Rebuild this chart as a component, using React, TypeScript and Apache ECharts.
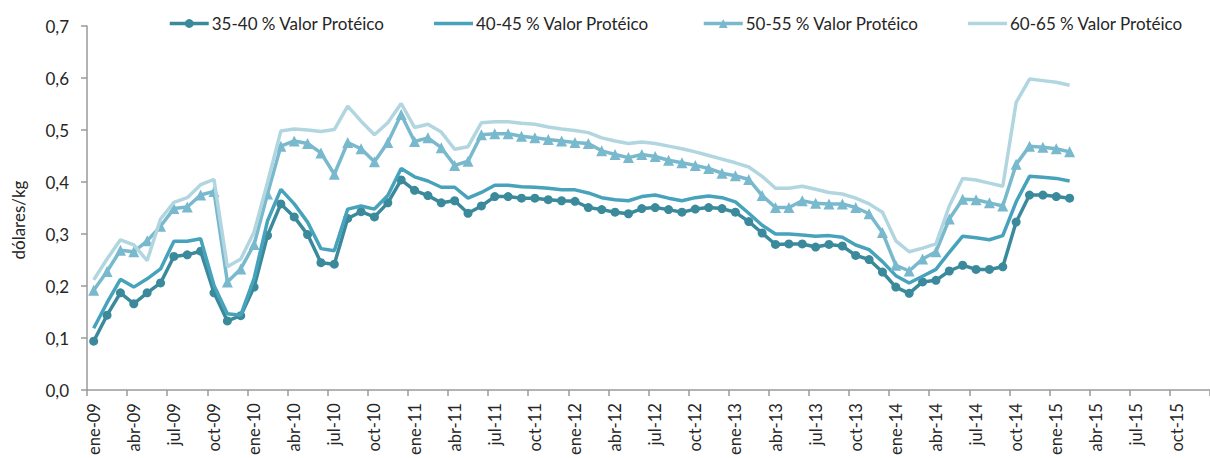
import React, { useEffect, useRef } from "react";
import * as echarts from "echarts";

const months = ["ene", "feb", "mar", "abr", "may", "jun", "jul", "ago", "sep", "oct", "nov", "dic"];
const years = ["09", "10", "11", "12", "13", "14", "15"];
const categories: string[] = [];
years.forEach((y) => months.forEach((m) => categories.push(m + "-" + y)));

const seriesNames = [
  "35-40 % Valor Protéico",
  "40-45 % Valor Protéico",
  "50-55 % Valor Protéico",
  "60-65 % Valor Protéico",
];

const v3540 = [
  0.094, 0.144, 0.187, 0.166, 0.187, 0.206, 0.257, 0.260, 0.267, 0.187, 0.133, 0.143,
  0.198, 0.297, 0.358, 0.333, 0.299, 0.245, 0.242, 0.330, 0.343, 0.333, 0.360, 0.404,
  0.384, 0.374, 0.360, 0.364, 0.340, 0.354, 0.372, 0.372, 0.369, 0.369, 0.366, 0.364,
  0.363, 0.351, 0.347, 0.342, 0.339, 0.349, 0.351, 0.347, 0.342, 0.348, 0.351, 0.349,
  0.342, 0.324, 0.302, 0.280, 0.281, 0.281, 0.275, 0.280, 0.277, 0.259, 0.251, 0.227,
  0.198, 0.186, 0.208, 0.211, 0.229, 0.240, 0.232, 0.232, 0.237, 0.323, 0.375, 0.375,
  0.372, 0.369,
];
const v4045 = [
  0.119, 0.168, 0.213, 0.198, 0.214, 0.233, 0.286, 0.286, 0.291, 0.201, 0.147, 0.144,
  0.215, 0.325, 0.386, 0.358, 0.323, 0.272, 0.268, 0.348, 0.354, 0.348, 0.374, 0.426,
  0.410, 0.402, 0.390, 0.390, 0.369, 0.380, 0.394, 0.394, 0.391, 0.390, 0.388, 0.385,
  0.385, 0.379, 0.370, 0.366, 0.364, 0.372, 0.375, 0.369, 0.364, 0.370, 0.373, 0.370,
  0.362, 0.340, 0.317, 0.300, 0.300, 0.298, 0.296, 0.297, 0.294, 0.279, 0.270, 0.247,
  0.220, 0.206, 0.219, 0.232, 0.265, 0.296, 0.293, 0.289, 0.297, 0.362, 0.411, 0.409,
  0.407, 0.402,
];
const v5055 = [
  0.192, 0.228, 0.269, 0.266, 0.287, 0.315, 0.349, 0.352, 0.375, 0.382, 0.208, 0.233,
  0.280, 0.377, 0.469, 0.479, 0.474, 0.456, 0.415, 0.476, 0.464, 0.439, 0.476, 0.530,
  0.478, 0.485, 0.466, 0.432, 0.440, 0.491, 0.493, 0.493, 0.488, 0.485, 0.482, 0.479,
  0.476, 0.474, 0.460, 0.453, 0.447, 0.453, 0.449, 0.442, 0.437, 0.432, 0.426, 0.417,
  0.412, 0.405, 0.374, 0.351, 0.351, 0.364, 0.359, 0.358, 0.358, 0.351, 0.339, 0.303,
  0.240, 0.229, 0.252, 0.266, 0.329, 0.367, 0.366, 0.360, 0.354, 0.434, 0.469, 0.467,
  0.464, 0.458,
];
const v6065 = [
  0.212, 0.252, 0.289, 0.279, 0.249, 0.329, 0.361, 0.370, 0.395, 0.405, 0.237, 0.252,
  0.304, 0.399, 0.498, 0.502, 0.500, 0.497, 0.501, 0.546, 0.517, 0.491, 0.514, 0.551,
  0.505, 0.511, 0.496, 0.463, 0.468, 0.514, 0.516, 0.516, 0.513, 0.511, 0.506, 0.502,
  0.499, 0.495, 0.485, 0.479, 0.474, 0.477, 0.474, 0.469, 0.464, 0.458, 0.451, 0.444,
  0.437, 0.429, 0.411, 0.388, 0.388, 0.392, 0.386, 0.380, 0.377, 0.369, 0.358, 0.342,
  0.287, 0.266, 0.273, 0.281, 0.354, 0.407, 0.404, 0.398, 0.392, 0.553, 0.598, 0.595,
  0.592, 0.586,
];

const colors = ["#3a8a9c", "#46a3bb", "#79b9ce", "#b2d6e0"];
const legendLefts = [168, 434, 702, 968];
const FONT = "Lato, 'Noto Sans', sans-serif";
const TEXT_COLOR = "#262626";
const AXIS_COLOR = "#9a9a9a";

export default function App() {
  const ref = useRef<HTMLDivElement>(null);
  useEffect(() => {
    if (!ref.current) return;
    const chart = echarts.init(ref.current, undefined, { renderer: "svg" });
    const dataSets = [v3540, v4045, v5055, v6065];
    const symbols = ["circle", "none", "triangle", "none"];
    const symbolSizes = [9, 0, 11, 0];
    chart.setOption({
      animation: false,
      backgroundColor: "#ffffff",
      textStyle: { fontFamily: FONT },
      legend: seriesNames.map((n, i) => {
        const plain = symbols[i] === "none";
        return {
          data: [plain ? { name: n, icon: "rect" } : { name: n }],
          left: legendLefts[i],
          top: 15,
          itemWidth: 39,
          itemHeight: plain ? 3.5 : 11,
          itemGap: 0,
          padding: 0,
          lineStyle: { width: 3.5 },
          textStyle: {
            fontSize: 17,
            fontFamily: FONT,
            color: TEXT_COLOR,
            padding: [0, 0, 0, -2],
          },
        };
      }),
      grid: { left: 87, right: -11, top: 26, bottom: 66, containLabel: false },
      xAxis: {
        type: "category",
        data: categories,
        boundaryGap: true,
        axisLine: { show: true, lineStyle: { color: AXIS_COLOR, width: 1.5 } },
        axisTick: { show: true, interval: 2, length: 6, lineStyle: { color: AXIS_COLOR, width: 1.5 } },
        axisLabel: {
          interval: 2,
          rotate: 90,
          margin: 13,
          fontSize: 16.5,
          fontFamily: FONT,
          color: TEXT_COLOR,
        },
        splitLine: { show: false },
      },
      yAxis: {
        type: "value",
        min: 0,
        max: 0.7,
        interval: 0.1,
        name: "dólares/kg",
        nameLocation: "middle",
        nameGap: 60,
        nameRotate: 90,
        nameTextStyle: { fontSize: 17, fontFamily: FONT, color: TEXT_COLOR, padding: [0, 24, 0, 0] },
        axisLine: { show: true, lineStyle: { color: AXIS_COLOR, width: 1.5 } },
        axisTick: { show: true, length: 6, lineStyle: { color: AXIS_COLOR, width: 1.5 } },
        axisLabel: {
          margin: 18,
          fontSize: 17,
          fontFamily: FONT,
          color: TEXT_COLOR,
          formatter: (v: number) => v.toFixed(1).replace(".", ","),
        },
        splitLine: { show: false },
      },
      series: seriesNames.map((n, i) => ({
        name: n,
        type: "line",
        data: dataSets[i],
        symbol: symbols[i],
        symbolSize: symbolSizes[i],
        showSymbol: symbols[i] !== "none",
        showAllSymbol: true,
        smooth: false,
        lineStyle: { color: colors[i], width: 3.5 },
        itemStyle: { color: colors[i], borderWidth: 0 },
        z: 2 + i,
      })),
    });
    return () => chart.dispose();
  }, []);
  return (
    <div
      ref={ref}
      style={{ position: "absolute", left: 0, top: 0, width: 1210, height: 458 }}
    />
  );
}
